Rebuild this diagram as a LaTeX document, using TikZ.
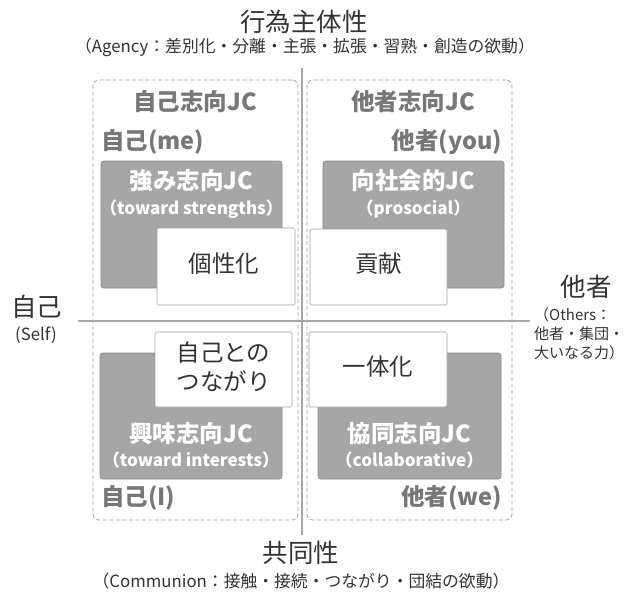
\documentclass[tikz,border=0pt]{standalone}
\usepackage{fontspec}
\setmainfont{Noto Sans CJK JP}
\definecolor{hdrgray}{HTML}{777777}
\definecolor{boxfill}{HTML}{A6A6A6}
\definecolor{boxedge}{HTML}{8C8C8C}
\definecolor{axisgray}{HTML}{A8A8A8}
\definecolor{dashgray}{HTML}{A0A0A0}
\definecolor{wedge}{HTML}{A0A0A0}
\definecolor{txt}{HTML}{333333}
\begin{document}
\begin{tikzpicture}[x=1pt,y=-1pt,
  dashbox/.style={draw=dashgray, line width=0.8pt, dash pattern=on 4pt off 2.5pt, rounded corners=6pt, inner sep=0pt},
  graybox/.style={draw=boxedge, fill=boxfill, line width=0.6pt, rounded corners=2.5pt, inner sep=0pt},
  whitebox/.style={draw=wedge, fill=white, line width=0.6pt, rounded corners=1.5pt, inner sep=0pt},
  axis/.style={draw=axisgray, line width=1.4pt},
  hdr/.style={font=\fontsize{23.5}{27}\selectfont\bfseries, text=hdrgray, inner sep=0pt},
  bigw/.style={font=\fontsize{23.5}{27}\selectfont\bfseries, text=white, inner sep=0pt},
  subw/.style={font=\fontsize{17}{19}\selectfont\bfseries, text=white, inner sep=0pt},
  wtext/.style={font=\fontsize{23.5}{29}\selectfont, text=txt, inner sep=0pt, align=center},
  axtitle/.style={font=\fontsize{25.5}{28}\selectfont, text=txt, inner sep=0pt},
  axsub/.style={font=\fontsize{16.8}{19}\selectfont, text=txt, inner sep=0pt},
  sidesub/.style={font=\fontsize{15}{19}\selectfont, text=txt, inner sep=0pt}
]
\useasboundingbox (0,0) rectangle (630,592);
\clip (0,0) rectangle (630,592);
\fill[white] (0,0) rectangle (630,592);

% axes
\coordinate (vtop) at (302,68);
\coordinate (vbot) at (302,535);
\coordinate (hl) at (78,321);
\coordinate (hr) at (530,321);
\draw[axis] (vtop) -- (vbot);
\draw[axis] (hl) -- (hr);

% dashed group boxes
\node[dashbox, minimum width=205pt, minimum height=440pt] (gL) at (195.5,300) {};
\node[dashbox, minimum width=205pt, minimum height=440pt] (gR) at (409.5,300) {};

% gray boxes
\node[graybox, minimum width=181pt, minimum height=127pt] (s1) at (191.5,224.5) {};
\node[graybox, minimum width=181pt, minimum height=127pt] (s2) at (413.5,224.5) {};
\node[graybox, minimum width=182pt, minimum height=126pt] (s3) at (191,416) {};
\node[graybox, minimum width=183pt, minimum height=126pt] (s4) at (409.5,416) {};

% white boxes
\node[whitebox, minimum width=138pt, minimum height=77pt] (w1) at (226,266.5) {};
\node[whitebox, minimum width=137pt, minimum height=76pt] (w2) at (378.5,267) {};
\node[whitebox, minimum width=137pt, minimum height=75pt] (w3) at (223.5,369.5) {};
\node[whitebox, minimum width=138pt, minimum height=75pt] (w4) at (378,369.5) {};

% headers
\node[hdr] (hL) at (195,102) {自己志向JC};
\node[hdr] (hR) at (413,102) {他者志向JC};
\node[hdr, anchor=west] (me) at (101,142) {自己(me)};
\node[hdr, anchor=east] (you) at (502,142) {他者(you)};
\node[hdr, anchor=west] (I) at (101,498) {自己(I)};
\node[hdr, anchor=east] (we) at (502,498) {他者(we)};

% gray box texts
\node[bigw] (t1) at (191.5,181) {強み志向JC};
\node[subw] (t1s) at (191.5,209) {（toward strengths）};
\node[bigw] (t2) at (413.5,181) {向社会的JC};
\node[subw] (t2s) at (413.5,209) {（prosocial）};
\node[bigw] (t3) at (191,434) {興味志向JC};
\node[subw] (t3s) at (191,460) {（toward interests）};
\node[bigw] (t4) at (409.5,434) {協同志向JC};
\node[subw] (t4s) at (409.5,460) {（collaborative）};

% white box texts
\node[wtext] (x1) at (224,264) {個性化};
\node[wtext] (x2) at (378.5,264) {貢献};
\node[wtext] (x3) at (223.5,367) {自己との\\つながり};
\node[wtext] (x4) at (378,367) {一体化};

% axis labels
\node[axtitle] (top) at (304,22) {行為主体性};
\node[axsub] (topsub) at (305,47) {（Agency：差別化・分離・主張・拡張・習熟・創造の欲動）};
\node[axtitle] (bot) at (301,553) {共同性};
\node[axsub] (botsub) at (301,581) {（Communion：接触・接続・つながり・団結の欲動）};
\node[axtitle] (left) at (37,307) {自己};
\node[axsub] (leftsub) at (36,335) {(Self)};
\node[axtitle] (right) at (586,287) {他者};
\node[sidesub, anchor=north west, align=left] (rightsub) at (534,307) {（Others：\\他者・集団・\\大いなる力）};
\end{tikzpicture}
\end{document}
